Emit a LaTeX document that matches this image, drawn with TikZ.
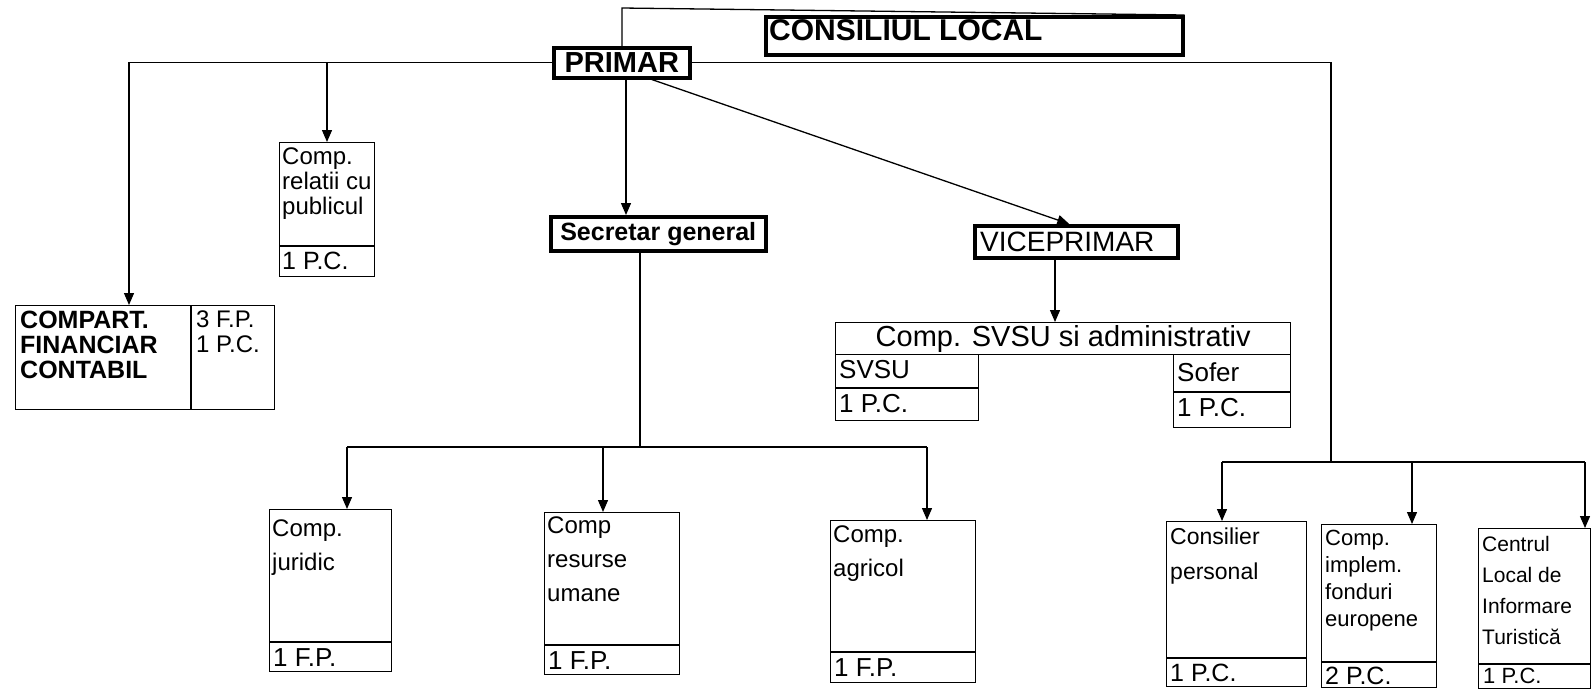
\documentclass[tikz,border=0pt]{standalone}
\usepackage{fontspec}
\setmainfont{Liberation Sans}
\usetikzlibrary{arrows.meta,calc}
\newcommand\fsz[2]{\fontsize{#1}{#2}\selectfont}
\newcommand\bx[6]{\node[#2, minimum width={#5-#3}, minimum height={#6-#4}] (#1) at (#3,#4) {};}
\begin{document}
\begin{tikzpicture}[x=1pt,y=-1pt,
  box/.style={draw, line width=1.4pt, rectangle, inner sep=0pt, anchor=north west},
  heavybox/.style={box, line width=3.5pt},
  arr/.style={-{Triangle[length=12pt,width=10pt]}, line width=1.3pt},
  ln/.style={line width=1.3pt},
  txt/.style={anchor=north west, inner sep=0pt, align=left, font=\fsz{24}{34}},
  ctxt/.style={inner sep=0pt}]
\useasboundingbox[fill=white] (0,0) rectangle (1593,689);

% boxes
\bx{consiliul}{heavybox}{764}{15}{1181}{53}
\bx{primar}{heavybox}{552}{46}{688}{76}
\bx{compart}{box}{15}{305}{274}{409}
\bx{relatii}{box}{279}{142}{374}{276}
\bx{secretar}{heavybox}{549}{215}{764}{249}
\bx{vice}{heavybox}{973}{224}{1176}{256}
\bx{svsuadm}{box}{835}{322}{1290}{354}
\bx{svsu}{box}{835}{354}{978}{420}
\bx{sofer}{box}{1173}{354}{1290}{427}
\bx{juridic}{box}{269}{509}{391}{671}
\bx{resurse}{box}{544}{512}{679}{674}
\bx{agricol}{box}{830}{520}{975}{682}
\bx{consilier}{box}{1166}{521}{1306}{686}
\bx{fonduri}{box}{1321}{524}{1436}{687}
\bx{centrul}{box}{1478}{528}{1590}{688}

% dividers
\draw[ln] (compart.north west) ++(176,0) coordinate (cdv) -- (cdv |- compart.south);
\draw[ln] (relatii.west |- 0,246) -- (relatii.east |- 0,246);
\draw[ln] (svsu.west |- 0,388) -- (svsu.east |- 0,388);
\draw[ln] (sofer.west |- 0,392) -- (sofer.east |- 0,392);
\draw[ln] (juridic.west |- 0,642) -- (juridic.east |- 0,642);
\draw[ln] (resurse.west |- 0,645) -- (resurse.east |- 0,645);
\draw[ln] (agricol.west |- 0,652) -- (agricol.east |- 0,652);
\draw[ln] (consilier.west |- 0,658) -- (consilier.east |- 0,658);
\draw[ln] (fonduri.west |- 0,662) -- (fonduri.east |- 0,662);
\draw[ln] (centrul.west |- 0,664) -- (centrul.east |- 0,664);

% texts
\node[txt, font=\fsz{30}{34}\bfseries] (tcons) at (769,19) {CONSILIUL LOCAL};
\node[ctxt, font=\fsz{29}{32}\bfseries] (tprim) at (primar.center) {PRIMAR};
\node[ctxt, font=\fsz{25}{28}\bfseries] (tsec) at (secretar.center) {Secretar general};
\node[ctxt, anchor=west, font=\fsz{28}{30}] (tvice) at ([xshift=7pt]vice.west) {VICEPRIMAR};
\node[txt, font=\fsz{24}{25}] (trel) at (282,148) {Comp.\\relatii cu\\publicul};
\node[txt, font=\fsz{25}{27}] (trelpc) at (282,252) {1 P.C.};
\node[txt, font=\fsz{25}{25}\bfseries] (tcomp) at (20,311) {COMPART.\\FINANCIAR\\CONTABIL};
\node[txt, font=\fsz{24}{25}] (tcompn) at (196,311) {3 F.P.\\1 P.C.};
\node[ctxt, font=\fsz{29}{30}] (tsvadm) at (svsuadm.center) {Comp. SVSU si administrativ};
\node[txt, font=\fsz{26}{28}] (tsvsu) at (839,360) {SVSU};
\node[txt, font=\fsz{26}{28}] (tsvsupc) at (839,394) {1 P.C.};
\node[txt, font=\fsz{26}{28}] (tsofer) at (1177,362) {Sofer};
\node[txt, font=\fsz{26}{28}] (tsoferpc) at (1177,398) {1 P.C.};
\node[txt] (tjur) at (272,520) {Comp.\\juridic};
\node[txt, font=\fsz{26}{28}] (tjurpc) at (273,648) {1 F.P.};
\node[txt] (tres) at (547,517) {Comp\\resurse\\umane};
\node[txt, font=\fsz{26}{28}] (trespc) at (548,651) {1 F.P.};
\node[txt] (tagr) at (833,526) {Comp.\\agricol};
\node[txt, font=\fsz{26}{28}] (tagrpc) at (834,658) {1 F.P.};
\node[txt, font=\fsz{23}{35}] (tcon) at (1170,528) {Consilier\\personal};
\node[txt, font=\fsz{25}{27}] (tconpc) at (1170,664) {1 P.C.};
\node[txt, font=\fsz{22}{27}] (tfon) at (1325,530) {Comp.\\implem.\\fonduri\\europene};
\node[txt, font=\fsz{25}{27}] (tfonpc) at (1325,667) {2 P.C.};
\node[txt, font=\fsz{21}{31}] (tcen) at (1482,536) {Centrul\\Local de\\Informare\\Turistică};
\node[txt, font=\fsz{22}{25}] (tcenpc) at (1483,668) {1 P.C.};

% helper coordinates
\coordinate (top) at (622,8);
\coordinate (xl) at (129,0);
\coordinate (xrel) at (327,0);
\coordinate (xsec) at (626,0);
\coordinate (xvs) at (1055,0);
\coordinate (sbus) at (640,447);
\coordinate (xjur) at (347,0);
\coordinate (xres) at (603,0);
\coordinate (xagr) at (927,0);
\coordinate (rbus) at (1331,462);
\coordinate (xcon) at (1222,0);
\coordinate (xfon) at (1412,0);
\coordinate (xcen) at (1585,0);

% connectors
\draw[ln] (primar.north -| top) -- (top) -- (consiliul.north east);
\draw[arr] (primar.west) -| (compart.north -| xl);
\draw[arr] (primar.west -| xrel) -- (relatii.north -| xrel);
\draw[arr] (primar.south -| xsec) -- (secretar.north -| xsec);
\draw[arr] ($(primar.south)+(30,0)$) -- ($(vice.north)+(-7,0)$);
\draw[arr] (vice.south -| xvs) -- (svsuadm.north -| xvs);
\draw[ln] (secretar.south -| sbus) -- (sbus);
\draw[ln] (sbus -| xjur) -- (sbus -| xagr);
\draw[arr] (sbus -| xjur) -- (juridic.north -| xjur);
\draw[arr] (sbus -| xres) -- (resurse.north -| xres);
\draw[arr] (sbus -| xagr) -- (agricol.north -| xagr);
\draw[ln] (primar.east) -| (rbus);
\draw[ln] (rbus -| xcon) -- (rbus -| xcen);
\draw[arr] (rbus -| xcon) -- (consilier.north -| xcon);
\draw[arr] (rbus -| xfon) -- (fonduri.north -| xfon);
\draw[arr] (rbus -| xcen) -- (centrul.north -| xcen);
\end{tikzpicture}
\end{document}
